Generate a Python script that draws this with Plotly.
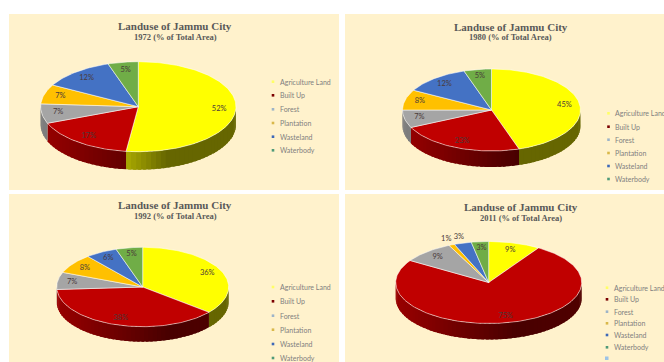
import numpy as np
import plotly.graph_objects as go

# Land-use shares of Jammu City, percent of total area
categories = ["Agriculture Land", "Built Up", "Forest", "Plantation", "Wasteland", "Waterbody"]
years = ["1972", "1980", "1992", "2011"]
values_1972 = [52, 17, 7, 7, 12, 5]
values_1980 = [45, 23, 7, 8, 12, 5]
values_1992 = [36, 38, 7, 8, 6, 5]
values_2011 = [9, 75, 9, 1, 3, 3]
all_values = [values_1972, values_1980, values_1992, values_2011]

W, H = 664, 362
PAGE_BG = "#FFFFFF"
PANEL_BG = "#FFF2CC"
TITLE_COLOR = "#595959"
LEGEND_COLOR = "#7F7F7F"
LABEL_COLOR = "#4A3A3A"
TITLE_FONT = "Liberation Serif"
BODY_FONT = "Lato"

top_colors = ["#FFFF00", "#C00000", "#A5A5A5", "#FFC000", "#4472C4", "#70AD47"]
legend_colors = ["#FFFF66", "#7B0000", "#9DB4C8", "#D9B84A", "#3D68B8", "#4F9A78"]
# Wall brightness as a function of horizontal position: (x stops, factor stops)
wall_shade = {
    0: ([-0.1, 0.3], [0.65, 0.40]),
    1: ([-1.0, 0.3, 1.0], [0.80, 0.38, 0.42]),
}

# Layout of each panel in page pixels
panels = [
    dict(box=(9, 14, 339, 190), cx=138.3, cy=106.7, rx=97.7, ry=45.0, depth=18,
         title_x=175, title_y=26, sub_y=37, leg_x=273,
         leg_y=[81.7, 95.3, 109.3, 123.0, 136.7, 150.3]),
    dict(box=(345, 14, 664, 190), cx=491.5, cy=110.0, rx=89.0, ry=41.0, depth=16,
         title_x=510.5, title_y=26.5, sub_y=37.5, leg_x=608.5,
         leg_y=[113.3, 126.7, 139.7, 153.0, 166.0, 179.0]),
    dict(box=(9, 194, 339, 362), cx=142.7, cy=287.0, rx=86.0, ry=39.7, depth=15,
         title_x=175, title_y=205, sub_y=216, leg_x=273,
         leg_y=[287.0, 301.3, 315.7, 329.7, 344.0, 358.0]),
    dict(box=(345, 194, 664, 362), cx=488.7, cy=282.5, rx=93.0, ry=41.0, depth=16,
         title_x=521, title_y=207, sub_y=218, leg_x=607,
         leg_y=[287.7, 299.3, 311.7, 323.3, 335.0, 347.3]),
]


def rgb_scaled(hex_color, factor):
    r, g, b = (int(hex_color[i:i + 2], 16) for i in (1, 3, 5))
    return f"rgb({int(r * factor)},{int(g * factor)},{int(b * factor)})"


def shade_at(idx, x):
    if idx in wall_shade:
        stops, factors = wall_shade[idx]
        return float(np.interp(x, stops, factors))
    return 0.76


fig = go.Figure()
layout = dict(
    width=W, height=H, autosize=False, showlegend=False,
    margin=dict(l=0, r=0, t=0, b=0), paper_bgcolor=PAGE_BG, plot_bgcolor=PANEL_BG,
)
annotations, shapes = [], []

for p_i, (panel, values, year) in enumerate(zip(panels, all_values, years)):
    suffix = "" if p_i == 0 else str(p_i + 1)
    xname, yname = f"x{suffix}", f"y{suffix}"
    x0, y0, x1, y1 = panel["box"]
    cx, cy, rx, ry = panel["cx"], panel["cy"], panel["rx"], panel["ry"]
    depth = panel["depth"] / ry

    # The axes hold a unit circle; their ranges supply the elliptical tilt
    layout[f"xaxis{suffix}"] = dict(
        domain=[x0 / W, x1 / W], range=[(x0 - cx) / rx, (x1 - cx) / rx],
        visible=False, fixedrange=True, anchor=yname,
    )
    layout[f"yaxis{suffix}"] = dict(
        domain=[1 - y1 / H, 1 - y0 / H], range=[(cy - y1) / ry, (cy - y0) / ry],
        visible=False, fixedrange=True, anchor=xname,
    )

    edges = np.cumsum([0] + values) / sum(values) * 2 * np.pi

    # Side wall: overlapping quads along the front half of the rim, each painted
    # over the tail of the one before so no seams show
    for s_i in range(len(values)):
        start, stop = max(edges[s_i], np.pi / 2), min(edges[s_i + 1], 3 * np.pi / 2)
        if stop <= start:
            continue
        steps = max(2, int((stop - start) / 0.05))
        ticks = np.linspace(start, stop, steps + 1)
        for a, b in zip(ticks[:-1], ticks[1:]):
            arc = np.linspace(a, min(b + 0.03, stop), 4)
            color = rgb_scaled(top_colors[s_i], shade_at(s_i, np.sin((a + b) / 2)))
            fig.add_trace(go.Scatter(
                x=np.r_[np.sin(arc), np.sin(arc[::-1])],
                y=np.r_[np.cos(arc), np.cos(arc[::-1]) - depth],
                mode="lines", fill="toself", fillcolor=color,
                line=dict(width=0), hoverinfo="skip",
                xaxis=xname, yaxis=yname,
            ))

    # Top face of the pie
    for s_i in range(len(values)):
        theta = np.linspace(edges[s_i], edges[s_i + 1], max(3, int((edges[s_i + 1] - edges[s_i]) / 0.02)))
        fig.add_trace(go.Scatter(
            x=np.r_[0, np.sin(theta), 0], y=np.r_[0, np.cos(theta), 0],
            mode="lines", fill="toself", fillcolor=top_colors[s_i],
            line=dict(color="rgba(255,255,255,0.75)", width=0.7),
            name=categories[s_i], hoverinfo="name",
            xaxis=xname, yaxis=yname,
        ))

    # Percentage labels; the narrowest upper slices carry theirs outside the rim
    mids = (edges[:-1] + edges[1:]) / 2
    radii = [1.15 if (v <= 3 and categories[i] in ("Plantation", "Wasteland")) else 0.83
             for i, v in enumerate(values)]
    fig.add_trace(go.Scatter(
        x=[r * np.sin(m) for r, m in zip(radii, mids)],
        y=[r * np.cos(m) for r, m in zip(radii, mids)],
        text=[f"{v}%" for v in values], mode="text",
        textfont=dict(family=BODY_FONT, size=7.5, color=LABEL_COLOR),
        hoverinfo="skip", xaxis=xname, yaxis=yname,
    ))

    # Two-line heading
    annotations.append(dict(
        text="<b>Landuse of Jammu City</b>", xref="paper", yref="paper", showarrow=False,
        x=panel["title_x"] / W, y=1 - panel["title_y"] / H, xanchor="center", yanchor="middle",
        font=dict(family=TITLE_FONT, size=11, color=TITLE_COLOR),
    ))
    annotations.append(dict(
        text=f"<b>{year} (% of Total Area)</b>", xref="paper", yref="paper", showarrow=False,
        x=panel["title_x"] / W, y=1 - panel["sub_y"] / H, xanchor="center", yanchor="middle",
        font=dict(family=TITLE_FONT, size=8.5, color=TITLE_COLOR),
    ))

    # Legend column
    lx = panel["leg_x"]
    for name, color, ly in zip(categories, legend_colors, panel["leg_y"]):
        shapes.append(dict(type="rect", xref="paper", yref="paper",
                           x0=(lx - 1.3) / W, x1=(lx + 1.3) / W,
                           y0=1 - (ly + 1.3) / H, y1=1 - (ly - 1.3) / H,
                           fillcolor=color, line=dict(width=0)))
        annotations.append(dict(
            text=name, xref="paper", yref="paper", showarrow=False,
            x=(lx + 4.5) / W, y=1 - ly / H, xanchor="left", yanchor="middle",
            font=dict(family=BODY_FONT, size=7, color=LEGEND_COLOR),
        ))

# Empty seventh legend key below the 2011 list
shapes.append(dict(type="rect", xref="paper", yref="paper",
                   x0=605 / W, x1=608.5 / W, y0=1 - 360 / H, y1=1 - 356.5 / H,
                   fillcolor="#9DC3E6", line=dict(width=0)))

layout["annotations"] = annotations
layout["shapes"] = shapes
fig.update_layout(**layout)
fig.write_html("out.html", config=dict(displayModeBar=False))
